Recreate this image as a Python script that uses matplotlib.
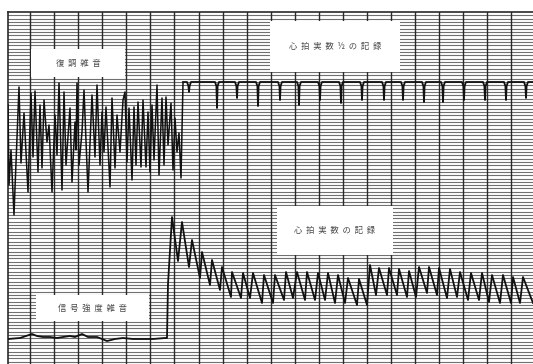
import numpy as np
import matplotlib.pyplot as plt
from matplotlib.patches import Rectangle

# chart-paper readings (x: paper position, y: pen position, both in scan pixels)
noise_x = [8, 9, 11, 14, 15, 19, 21, 24, 28, 31, 33, 35, 38, 40, 42, 44, 47, 49, 52, 55,
           57, 59, 62, 64, 66, 70, 72, 75, 76, 77, 79, 82, 84, 88, 92, 95, 97, 100, 102, 104,
           106, 110, 112, 115, 117, 120, 123, 125, 127, 129, 132, 134, 136, 138, 141, 143,
           146, 148, 150, 152, 154, 157, 159, 162, 164, 166, 168, 171, 173, 175, 177, 179,
           181, 182, 183]
noise_y = [105, 185, 150, 215, 188, 87, 163, 113, 192, 93, 157, 91, 172, 105, 168, 100, 142, 125, 192, 115,
           155, 83, 190, 92, 165, 108, 182, 122, 150, 83, 165, 132, 90, 192, 95, 157, 85, 165, 112, 152,
           107, 187, 98, 168, 115, 152, 100, 92, 162, 108, 180, 107, 165, 102, 167, 100,
           167, 112, 172, 105, 160, 85, 175, 98, 165, 97, 145, 103, 170, 118, 152, 133,
           178, 130, 83]

half_base = 82
half_spike_x = [189, 217, 237, 258, 280, 299, 320, 341, 362, 384, 403, 424, 443, 464, 485, 506, 526]
half_spike_bottom = [92, 108, 98, 106, 100, 105, 100, 103, 100, 100, 100, 102, 102, 100, 100, 100, 98]

signal_x = [8, 20, 32, 37, 43, 50, 57, 63, 70, 75, 82, 88, 97, 107, 115, 123, 133, 143, 153, 165, 167, 168]
signal_y = [339, 338, 334, 336, 337, 337, 338, 337, 336, 337, 334, 337, 337, 341, 339, 338, 339, 339, 339, 338, 338, 284]

rate_x = [172, 178, 182, 189, 192, 200, 202, 210, 212, 220, 222, 231, 232, 241, 243, 250, 253, 262,
          264, 273, 275, 284, 286, 293, 297, 305, 307, 315, 318, 325, 328, 335, 338, 345, 348, 357,
          359, 367, 370, 376, 379, 387, 389, 397, 399, 407, 409, 416, 419, 427, 429, 437, 439, 447,
          450, 457, 460, 468, 471, 479, 482, 489, 492, 500, 503, 511, 513, 520, 523, 533]
rate_y = [217, 261, 222, 267, 240, 278, 252, 285, 260, 290, 267, 297, 272, 298, 273, 298, 273, 303,
          275, 303, 275, 300, 272, 298, 272, 300, 272, 300, 273, 300, 273, 303, 275, 303, 278, 305,
          279, 305, 265, 295, 268, 295, 268, 295, 269, 297, 271, 297, 267, 293, 267, 295, 268, 298,
          269, 297, 272, 300, 273, 300, 273, 302, 275, 303, 275, 303, 277, 303, 277, 303]

labels = [
    ("復  調  雑  音", (31, 49, 125, 77)),
    ("心  拍  実  数  ½  の  記  録", (270, 21, 400, 72)),
    ("心  拍  実  数  の  記  録", (277, 206, 393, 255)),
    ("信  号  強  度  雑  音", (36, 295, 149, 321)),
]

# build the half-rate trace: flat baseline with a narrow dip at each beat
hx, hy = [183], [half_base]
for p, b in zip(half_spike_x, half_spike_bottom):
    hx += [p - 2, p - 0.6, p, p + 0.6, p + 2]
    hy += [half_base, half_base + 4, b, half_base + 4, half_base]
hx.append(533)
hy.append(half_base)

fig = plt.figure(figsize=(5.33, 3.64), dpi=100)
ax = fig.add_axes([8 / 533, 0, 525 / 533, 352 / 364])
ax.set_xlim(8, 533)
ax.set_ylim(364, 12)

# recorder paper grid
for xv in np.arange(30.3, 534, 24.03):
    ax.axvline(xv, color="#2a2a2a", lw=1.0, zorder=1)
for yv in np.arange(12 + 3.33, 364, 3.33):
    ax.axhline(yv, color="#707070", lw=0.8, zorder=0)
ax.set_xticks([])
ax.set_yticks([])
for side in ["right", "bottom"]:
    ax.spines[side].set_visible(False)
ax.spines["left"].set_color("#2a2a2a")
ax.spines["top"].set_color("#2a2a2a")
ax.spines["left"].set_linewidth(1.2)
ax.spines["top"].set_linewidth(1.2)

for txt, (x0, y0, x1, y1) in labels:
    ax.add_patch(Rectangle((x0, y0), x1 - x0, y1 - y0, facecolor="white",
                           edgecolor="none", zorder=2))
    ax.text((x0 + x1) / 2, (y0 + y1) / 2, txt, ha="center", va="center",
            fontsize=6, color="#4a4a4a", zorder=3,
            family=["Noto Sans CJK JP", "DejaVu Sans"])

ax.plot(noise_x, noise_y, color="#111111", lw=1.1, zorder=4)
ax.plot(hx, hy, color="#111111", lw=1.3, zorder=4)
ax.plot(signal_x + rate_x, signal_y + rate_y, color="#111111", lw=1.3, zorder=4)

fig.savefig("out.png", dpi=100)
